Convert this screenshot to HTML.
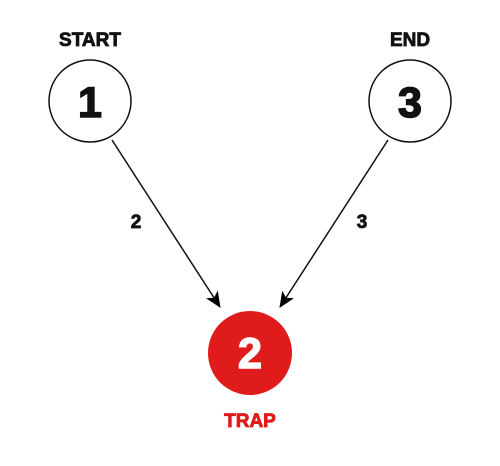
<!DOCTYPE html>
<html><head><style>body{margin:0;background:#fff}</style></head><body>
<svg width="500" height="461" xmlns="http://www.w3.org/2000/svg" font-family="Liberation Sans, sans-serif" font-weight="bold" text-anchor="middle">
<defs><marker id="a" markerWidth="16" markerHeight="14" refX="15" refY="7" orient="auto" markerUnits="userSpaceOnUse"><path d="M0,0 L16,7 L0,14 L4,7 z" fill="#000"/></marker></defs>
<g stroke-width="0.8">
<text x="90" y="46" font-size="19" fill="#111" stroke="#111">START</text>
<text x="410" y="46" font-size="19" fill="#111" stroke="#111">END</text>
<circle cx="90" cy="101" r="41" fill="#fff" stroke="#111" stroke-width="1.5"/>
<circle cx="410" cy="101" r="41" fill="#fff" stroke="#111" stroke-width="1.5"/>
<text x="90" y="117" font-size="43" fill="#111" stroke="#111" stroke-width="1.5">1</text>
<text x="410" y="117" font-size="43" fill="#111" stroke="#111" stroke-width="1.5">3</text>
<line x1="112" y1="140" x2="220" y2="307" stroke="#111" stroke-width="1.5" marker-end="url(#a)"/>
<line x1="388" y1="140" x2="280" y2="307" stroke="#111" stroke-width="1.5" marker-end="url(#a)"/>
<text x="136" y="228" font-size="19" fill="#111" stroke="#111">2</text>
<text x="362" y="228" font-size="19" fill="#111" stroke="#111">3</text>
<circle cx="250" cy="353" r="42" fill="#e01b1b"/>
<text x="250" y="368" font-size="43" fill="#fff" stroke="#fff" stroke-width="1.5">2</text>
<text x="250" y="427" font-size="19" fill="#e01b1b" stroke="#e01b1b">TRAP</text>
</g>
</svg>
</body></html>
